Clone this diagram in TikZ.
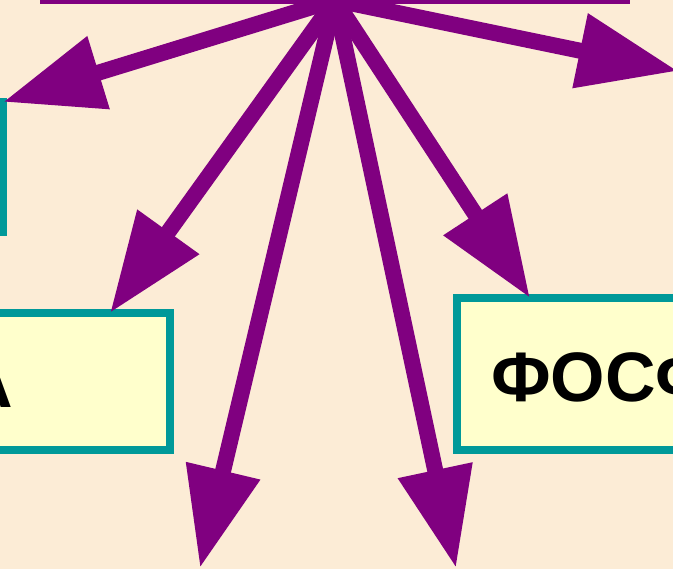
\documentclass[tikz,border=0pt]{standalone}
\usepackage{fontspec}
\setmainfont{Liberation Sans}
\usetikzlibrary{positioning,arrows.meta,calc}
\definecolor{bgbeige}{RGB}{252,236,214}
\definecolor{boxfill}{RGB}{255,255,204}
\definecolor{boxline}{RGB}{0,153,153}
\definecolor{raypurple}{RGB}{128,0,128}
\begin{document}
\begin{tikzpicture}[x=1pt, y=-1pt,
>={Triangle[length=100pt,width=72pt]},
box/.style={draw=boxline, line width=8pt, fill=boxfill, inner sep=0pt, outer sep=0pt},
topbox/.style={draw=raypurple, line width=8pt, fill=boxfill, inner sep=0pt, outer sep=0pt},
ray/.style={->, draw=raypurple, line width=16pt},
lbl/.style={font=\bfseries\fontsize{70}{82}\selectfont, inner sep=0pt}
]
\useasboundingbox (0,0) rectangle (673,569);
\clip (0,0) rectangle (673,569);
\fill[bgbeige] (0,0) rectangle (673,569);
\node[topbox, minimum width=582pt, minimum height=100pt] (src) at (335,-50) {};
\node[box, minimum width=300pt, minimum height=130pt] (boxL) at (-147,167) {};
\node[box, minimum width=300pt, minimum height=137pt] (boxA) at (20,381.5) {};
\node[box, minimum width=300pt, minimum height=152pt] (boxP) at (607,374) {};
\node[lbl, anchor=base east] (labA) at (13,408) {А};
\node[lbl, anchor=base west] (labP) at (491,402) {ФОСФ};
\coordinate (endD1) at (200,568);
\coordinate (endD2) at (456,568);
\coordinate (endR) at (678,71);
\draw[ray] (src.south) -- (boxL.north east);
\draw[ray] (src.south) -- ([xshift=-60pt]boxA.north east);
\draw[ray] (src.south) -- (endD1);
\draw[ray] (src.south) -- (endD2);
\draw[ray] (src.south) -- ([xshift=73pt]boxP.north west);
\draw[ray] (src.south) -- (endR);
\end{tikzpicture}
\end{document}
